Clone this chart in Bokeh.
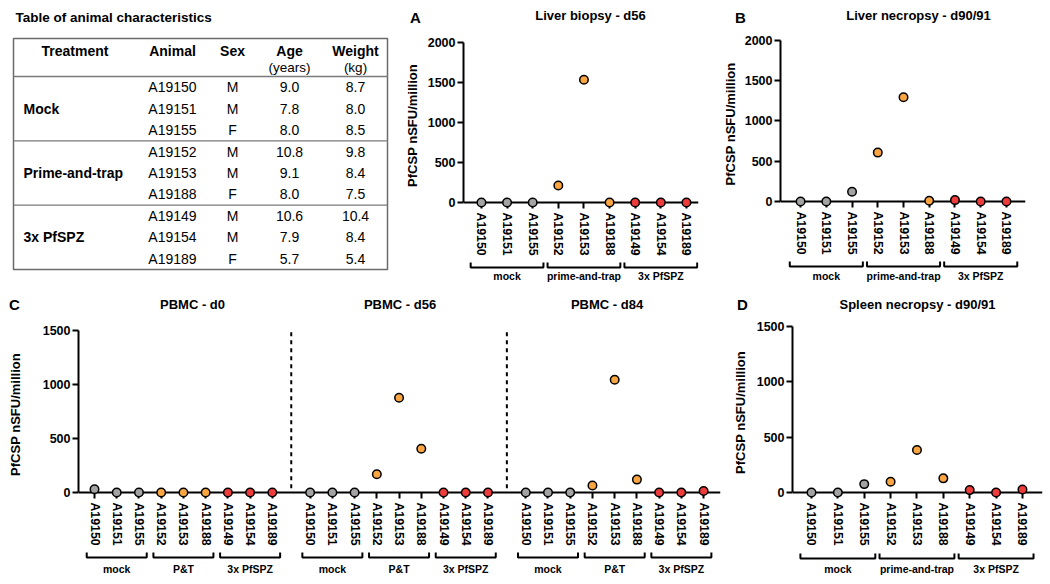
from bokeh.plotting import figure
from bokeh.layouts import row, column
from bokeh.models import Range1d, FixedTicker, Span
from bokeh.core.properties import value
from bokeh.embed import file_html
from bokeh.resources import INLINE

FONT = "Liberation Sans"

# ---------------- data ----------------
animals = ["A19150", "A19151", "A19155", "A19152", "A19153", "A19188", "A19149", "A19154", "A19189"]
group_index = [0, 0, 0, 1, 1, 1, 2, 2, 2]
group_names = ["mock", "prime-and-trap", "3x PfSPZ"]
group_names_short = ["mock", "P&T", "3x PfSPZ"]
group_colors = ["#a3a3a3", "#f9a541", "#ee3b3b"]

liver_biopsy_d56 = [0, 0, 0, 212, 1534, 0, 0, 0, 0]
liver_necropsy_d90 = [0, 0, 121, 607, 1295, 8, 17, 0, 0]
pbmc_d0 = [31, 0, 0, 0, 0, 0, 0, 0, 0]
pbmc_d56 = [0, 0, 0, 169, 878, 406, 0, 0, 0]
pbmc_d84 = [0, 0, 0, 65, 1044, 120, 0, 0, 15]
spleen_necropsy_d90 = [0, 0, 75, 96, 383, 127, 21, 0, 27]
pbmc_titles = ["PBMC - d0", "PBMC - d56", "PBMC - d84"]

table_header = ["Treatment", "Animal", "Sex", "Age", "Weight"]
table_units = ["(years)", "(kg)"]
table_treatments = ["Mock", "Prime-and-trap", "3x PfSPZ"]
table_sex = ["M", "M", "F", "M", "M", "F", "M", "M", "F"]
table_age = ["9.0", "7.8", "8.0", "10.8", "9.1", "8.0", "10.6", "7.9", "5.7"]
table_weight = ["8.7", "8.0", "8.5", "9.8", "8.4", "7.5", "10.4", "8.4", "5.4"]

point_colors = [group_colors[g] for g in group_index]
YLABEL = "PfCSP nSFU/million"


def text_kw(size, bold=True, align="center"):
    return dict(text_font=value(FONT), text_font_size=size,
                text_font_style="bold" if bold else "normal",
                text_align=align, text_baseline="middle", text_color="black")


def blank_fig(width, height, xr, yr, bl=0, br=0):
    f = figure(width=width, height=height, x_range=xr, y_range=yr,
               x_axis_location=None, y_axis_location=None, output_backend="svg",
               toolbar_location=None, tools="", min_border=0,
               min_border_left=bl, min_border_right=br, min_border_top=0, min_border_bottom=0)
    f.outline_line_color = None
    f.grid.visible = False
    return f


def header_fig(width, height, letter, letter_xy, titles, title_xs, title_y):
    h = blank_fig(width, height, Range1d(0, width), Range1d(height, 0))
    h.text(x=[letter_xy[0]], y=[letter_xy[1]], text=[letter], **text_kw("15px"))
    h.text(x=title_xs, y=[title_y] * len(titles), text=titles, **text_kw("13px"))
    # wrapped in its own row so that its frame is not aligned with the panel below
    return row(h)


def make_panel(width, height, bl, br, bt, bb, xr, y_start, ymax, ylab_standoff):
    p = figure(width=width, height=height, x_range=xr, y_range=Range1d(y_start, ymax),
               output_backend="svg", toolbar_location=None, tools="",
               min_border_left=bl, min_border_right=br, min_border_top=bt, min_border_bottom=bb)
    p.outline_line_color = None
    p.grid.visible = False
    ya = p.yaxis[0]
    ya.ticker = FixedTicker(ticks=list(range(0, ymax + 1, 500)))
    ya.bounds = (0, ymax)
    ya.axis_line_width = 2
    ya.major_tick_line_width = 2
    ya.major_tick_out = 6
    ya.major_tick_in = 0
    ya.minor_tick_out = 0
    ya.minor_tick_in = 0
    ya.major_label_standoff = 2
    ya.major_label_text_font = FONT
    ya.major_label_text_font_style = "bold"
    ya.major_label_text_font_size = "12.5px"
    ya.major_label_text_color = "black"
    ya.axis_label = YLABEL
    ya.axis_label_text_font = FONT
    ya.axis_label_text_font_style = "bold"
    ya.axis_label_text_font_size = "13px"
    ya.axis_label_text_color = "black"
    ya.axis_label_standoff = ylab_standoff
    xa = p.xaxis[0]
    xa.axis_line_color = None
    xa.major_tick_in = 6
    xa.major_tick_out = 0
    xa.major_tick_line_width = 2
    xa.minor_tick_in = 0
    xa.minor_tick_out = 0
    xa.major_label_orientation = "vertical"
    xa.major_label_standoff = 4
    xa.major_label_text_font = FONT
    xa.major_label_text_font_style = "bold"
    xa.major_label_text_font_size = "12.3px"
    xa.major_label_text_color = "black"
    p.add_layout(Span(location=0, dimension="width", line_color="black", line_width=2, level="underlay"))
    return p


def bracket_fig(width, height, bl, br, xr, centers, half, names, line_y, label_y):
    b = blank_fig(width, height, xr, Range1d(height, 0), bl, br)
    xs = [[c - half, c - half, c + half, c + half] for c in centers]
    ys = [[line_y - 5, line_y, line_y, line_y - 5] for _ in centers]
    b.multi_line(xs, ys, line_color="black", line_width=2)
    b.text(x=centers, y=[label_y] * len(centers), text=names, **text_kw("10.5px"))
    return b


def simple_panel(width, bl, br, main_h, bt, bb, br_h, x_start, x_end, y_start, ymax, values,
                 letter, letter_xy, title, title_x, title_y, head_h, ylab_standoff, br_line, br_label):
    pos = list(range(len(animals)))
    xr = Range1d(x_start, x_end)
    head = header_fig(width, head_h, letter, letter_xy, [title], [title_x], title_y)
    p = make_panel(width, main_h, bl, br, bt, bb, xr, y_start, ymax, ylab_standoff)
    p.xaxis[0].ticker = FixedTicker(ticks=pos)
    p.xaxis[0].major_label_overrides = {i: a for i, a in zip(pos, animals)}
    p.scatter(pos, values, size=8.5, fill_color=point_colors, line_color="black",
              line_width=1.5, level="overlay")
    centers = [3 * g + 1 for g in range(3)]
    b = bracket_fig(width, br_h, bl, br, xr, centers, 1.42, group_names, br_line, br_label)
    return column(head, p, b)


# ---------------- table ----------------
t = blank_fig(395, 296, Range1d(0, 395), Range1d(296, 0))
t.text(x=[15], y=[17], text=["Table of animal characteristics"], **text_kw("13.5px", True, "left"))
box_l, box_r, box_t, head_b, row_h = 13, 387, 38, 76, 21.45
n_rows = len(animals)
box_b = head_b + row_h * n_rows
t.quad(left=[box_l], right=[box_r], top=[box_t], bottom=[box_b], fill_color=None,
       line_color="#6b6b6b", line_width=1.5)
sep_y = [head_b + 3 * row_h * g for g in range(len(table_treatments))]
t.segment(x0=[box_l] * len(sep_y), y0=sep_y, x1=[box_r] * len(sep_y), y1=sep_y,
          line_color="#7a7a7a", line_width=1.3)
col_x = [74.5, 172, 232, 289, 355]
t.text(x=col_x[:3], y=[50] * 3, text=table_header[:3], **text_kw("14px"))
t.text(x=col_x[3:], y=[50] * 2, text=table_header[3:], **text_kw("14px"))
t.text(x=col_x[3:], y=[67] * 2, text=table_units, **text_kw("13.5px", False))
row_y = [head_b + row_h * (i + 0.5) for i in range(n_rows)]
t.text(x=[col_x[1]] * n_rows, y=row_y, text=animals, **text_kw("14px", False))
t.text(x=[col_x[2]] * n_rows, y=row_y, text=table_sex, **text_kw("14px", False))
t.text(x=[col_x[3]] * n_rows, y=row_y, text=table_age, **text_kw("14px", False))
t.text(x=[col_x[4]] * n_rows, y=row_y, text=table_weight, **text_kw("14px", False))
t.text(x=[23] * 3, y=[row_y[3 * g + 1] for g in range(3)], text=table_treatments,
       **text_kw("14px", True, "left"))

# ---------------- panels A, B ----------------
panel_a = simple_panel(317, 68, 14, 230, 14, 50, 38, -0.70, 8.47, -75, 2000, liver_biopsy_d56,
                       "A", (20, 17), "Liver biopsy - d56", 195, 15, 28, 5, 9, 17.5)
panel_b = simple_panel(338, 68, 25, 230, 12, 51, 38, -0.78, 8.74, -75, 2000, liver_necropsy_d90,
                       "B", (28, 17), "Liver necropsy - d90/91", 206, 15, 28, 4, 8, 17.5)

# ---------------- panel C (PBMC) ----------------
BLOCK = 97
c_pos, c_vals, c_labels, c_cols = [], [], [], []
for b_i, vals in enumerate([pbmc_d0, pbmc_d56, pbmc_d84]):
    for i, v in enumerate(vals):
        c_pos.append(b_i * BLOCK + 10 * i)
        c_vals.append(v)
        c_labels.append(animals[i])
        c_cols.append(point_colors[i])
c_xr = Range1d(-7.2, c_pos[-1] + 7.6)
hc = header_fig(725, 20, "C", (14, 8), pbmc_titles, [192, 399.5, 606.5], 8)
pc = make_panel(725, 232, 78, 5, 14, 50, c_xr, -55, 1500, 17)
pc.xaxis[0].ticker = FixedTicker(ticks=c_pos)
pc.xaxis[0].major_label_overrides = {x: l for x, l in zip(c_pos, c_labels)}
sep_x = [b_i * BLOCK + 80 + (BLOCK - 80) / 2 for b_i in range(2)]
pc.segment(x0=sep_x, y0=[40] * 2, x1=sep_x, y1=[1500] * 2, line_color="black",
           line_width=2, line_dash="4 4")
pc.scatter(c_pos, c_vals, size=8.5, fill_color=c_cols, line_color="black",
           line_width=1.5, level="overlay")
c_centers = [b_i * BLOCK + 10 * (3 * g + 1) for b_i in range(3) for g in range(3)]
c_names = group_names_short * 3
bc = bracket_fig(725, 36, 78, 5, c_xr, c_centers, 13.5, c_names, 9, 20)
panel_c = column(hc, pc, bc)

# ---------------- panel D ----------------
panel_d = simple_panel(325, 67, 8, 232, 10, 50, 36, -0.72, 8.76, -55, 1500, spleen_necropsy_d90,
                       "D", (17, 8), "Spleen necropsy - d90/91", 192, 8, 20, 6, 10, 20)

layout = column(row(t, panel_a, panel_b), row(panel_c, panel_d))

with open("out.html", "w") as f:
    f.write(file_html(layout, INLINE))
